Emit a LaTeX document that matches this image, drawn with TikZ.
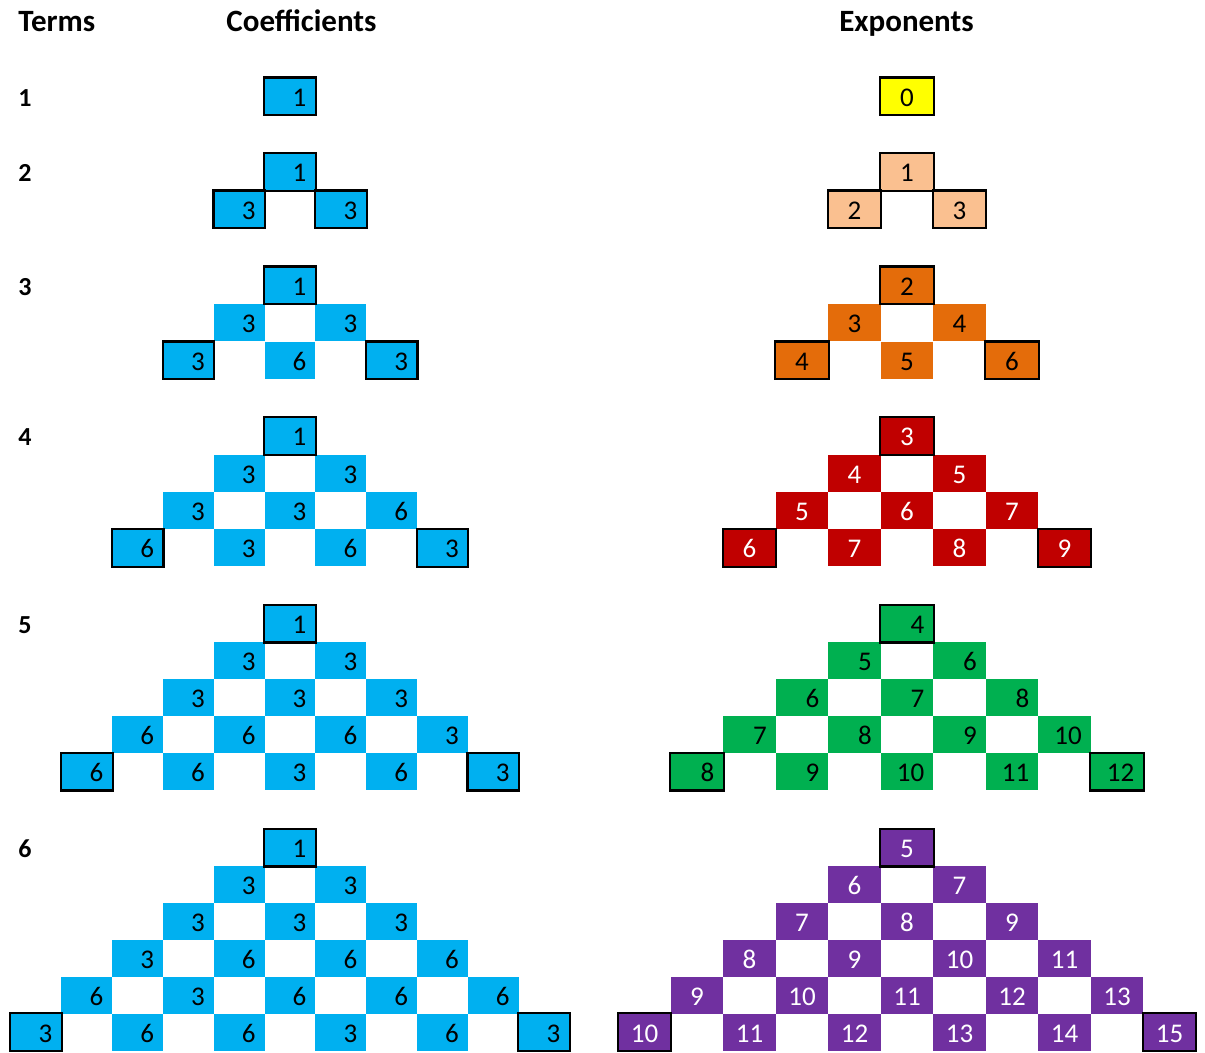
\documentclass[tikz,border=0pt]{standalone}
\usepackage{fontspec}
\setmainfont{Carlito}
\usetikzlibrary{positioning}

\definecolor{coefblue}{HTML}{00B0F0}
\definecolor{expyellow}{HTML}{FFFF00}
\definecolor{exppeach}{HTML}{FAC090}
\definecolor{exporange}{HTML}{E46C0A}
\definecolor{expred}{HTML}{C00000}
\definecolor{expgreen}{HTML}{00B050}
\definecolor{exppurple}{HTML}{7030A0}

\tikzset{
  cell/.style={rectangle,inner xsep=4.5pt,inner ysep=0pt,minimum height=18.5pt,
    text height=10pt,text depth=0pt,font=\fontsize{13.5}{15}\selectfont},
  coefcell/.style={cell,text width=16.4pt,align=right,fill=coefblue},
  expcell/.style={cell,text width=17.25pt},
  boxline/.style={draw=black,line width=1.1pt},
  termlabel/.style={anchor=west,inner sep=0pt,minimum height=18.5pt,
    text height=10pt,text depth=0pt,font=\fontsize{13}{15}\selectfont\bfseries},
  header/.style={anchor=base,inner sep=0pt,font=\fontsize{15.5}{18}\selectfont\bfseries}
}

\begin{document}
\begin{tikzpicture}[x=0.5pt,y=-0.5pt]
\useasboundingbox (0,0) rectangle (1205,1053);

% Column headers
\node[header,anchor=base west] (terms) at (18,31.5) {Terms};
\node[header] (coef) at (301.5,31.5) {Coefficients};
\node[header] (expo) at (906.5,31.5) {Exponents};

% Term numbers
\foreach \t/\ty in {1/96.5,2/172,3/285.5,4/436,5/623.5,6/847.5}
  \node[termlabel] (t\t) at (18,\ty) {\t};

% Coefficients, one triangle per term
\foreach \r/\vals in {1/{1}}
  \foreach \v [count=\k] in \vals
    \node[coefcell] (c1-\r-\k) at ({290+(2*\k-\r-1)*50.8},{96.5+(\r-1)*37}) {\v};
\foreach \r/\vals in {1/{1},2/{3,3}}
  \foreach \v [count=\k] in \vals
    \node[coefcell] (c2-\r-\k) at ({290+(2*\k-\r-1)*50.8},{172+(\r-1)*37.5}) {\v};
\foreach \r/\vals in {1/{1},2/{3,3},3/{3,6,3}}
  \foreach \v [count=\k] in \vals
    \node[coefcell] (c3-\r-\k) at ({290+(2*\k-\r-1)*50.8},{285.5+(\r-1)*37.5}) {\v};
\foreach \r/\vals in {1/{1},2/{3,3},3/{3,3,6},4/{6,3,6,3}}
  \foreach \v [count=\k] in \vals
    \node[coefcell] (c4-\r-\k) at ({290+(2*\k-\r-1)*50.8},{436+(\r-1)*37.3}) {\v};
\foreach \r/\vals in {1/{1},2/{3,3},3/{3,3,3},4/{6,6,6,3},5/{6,6,3,6,3}}
  \foreach \v [count=\k] in \vals
    \node[coefcell] (c5-\r-\k) at ({290+(2*\k-\r-1)*50.8},{623.5+(\r-1)*37}) {\v};
\foreach \r/\vals in {1/{1},2/{3,3},3/{3,3,3},4/{3,6,6,6},5/{6,3,6,6,6},6/{3,6,6,3,6,3}}
  \foreach \v [count=\k] in \vals
    \node[coefcell] (c6-\r-\k) at ({290+(2*\k-\r-1)*50.8},{847.5+(\r-1)*36.9}) {\v};

% Exponents: row r of term t starts at t+r-2
\foreach \t/\ty/\dy/\col/\txt/\al in {1/96.5/37/expyellow/black/center,
    2/172/37.5/exppeach/black/center,3/285.5/37.5/exporange/black/center,
    4/436/37.3/expred/white/center,5/623.5/37/expgreen/black/right,
    6/847.5/36.9/exppurple/white/center}
  \foreach \r in {1,...,\t}
    \foreach \k in {1,...,\r} {
      \pgfmathtruncatemacro\ev{\t+\r+\k-3}
      \node[expcell,fill=\col,text=\txt,align=\al] (e\t-\r-\k)
        at ({907+(2*\k-\r-1)*52.5},{\ty+(\r-1)*\dy}) {\ev};
    }

% Frames on apex and end cells
\foreach \n in {c1-1-1,c2-1-1,c2-2-1,c2-2-2,c3-1-1,c3-3-1,c3-3-3,
    c4-1-1,c4-4-1,c4-4-4,c5-1-1,c5-5-1,c5-5-5,c6-1-1,c6-6-1,c6-6-6,
    e1-1-1,e2-1-1,e2-2-1,e2-2-2,e3-1-1,e3-3-1,e3-3-3,
    e4-1-1,e4-4-1,e4-4-4,e5-1-1,e5-5-1,e5-5-5,e6-1-1,e6-6-1,e6-6-6}
  \draw[boxline] (\n.north west) rectangle (\n.south east);
\end{tikzpicture}
\end{document}
